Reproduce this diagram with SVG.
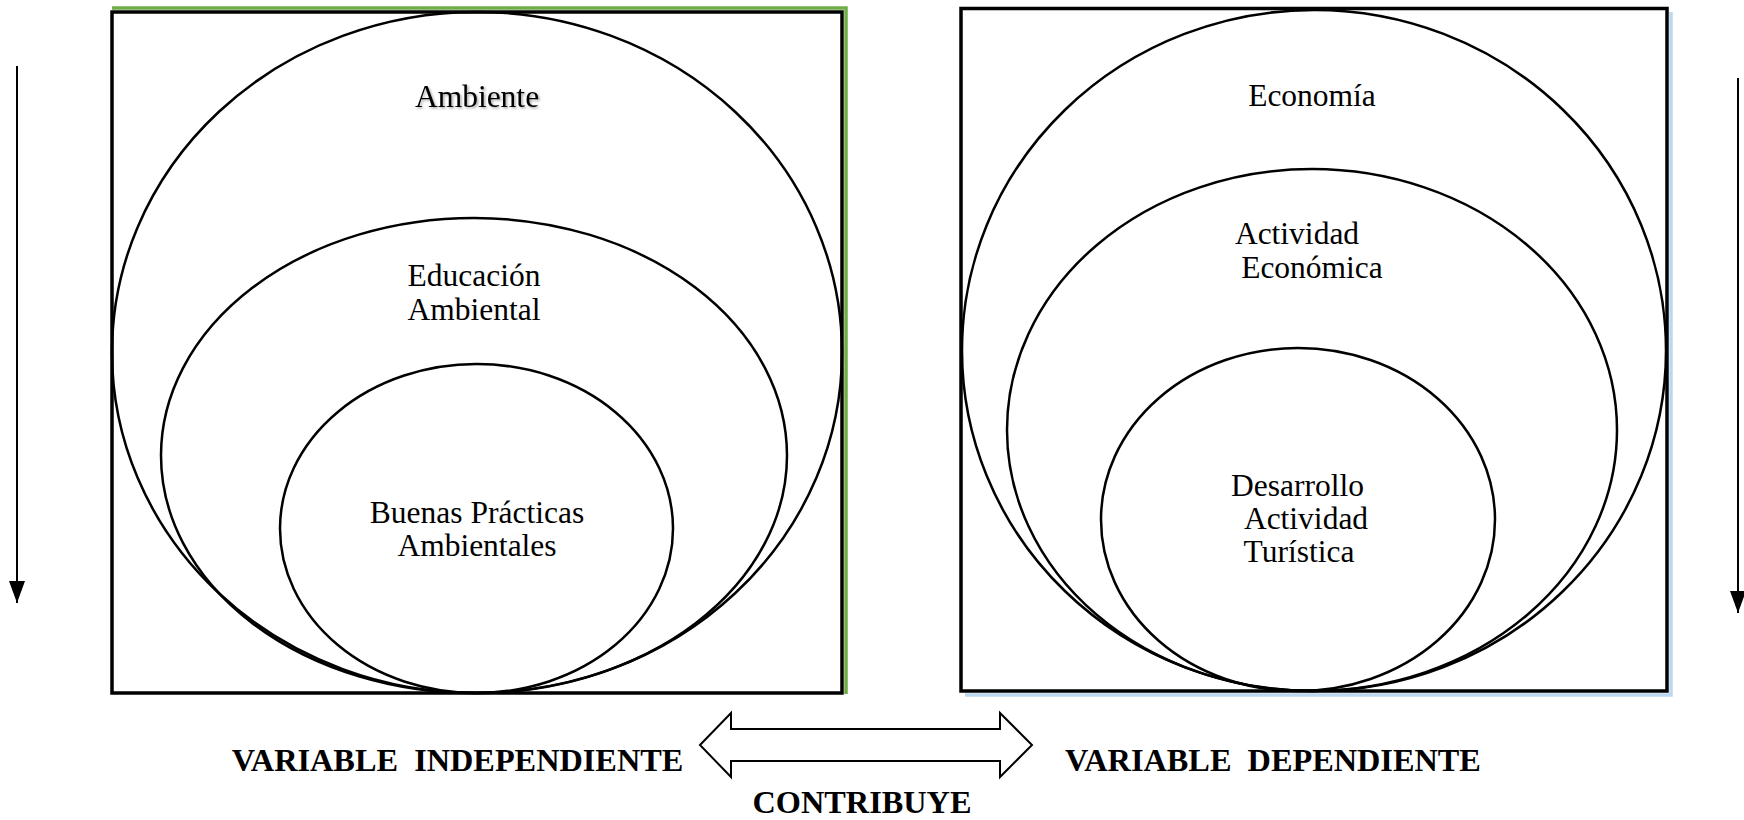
<svg xmlns="http://www.w3.org/2000/svg" width="1744" height="820" viewBox="0 0 1744 820">
<style>
.frame{fill:none;stroke:#000;stroke-width:3.5}
.ell{fill:none;stroke:#000;stroke-width:2.5}
.t{font-family:"Liberation Serif","Times New Roman",serif;font-size:31.5px;fill:#000;text-anchor:middle}
.b{font-family:"Liberation Serif","Times New Roman",serif;font-size:32.3px;font-weight:bold;fill:#000;text-anchor:middle}
.ar{fill:none;stroke:#000;stroke-width:2}
</style>
<defs>
<marker id="tip" viewBox="0 0 22 16" refX="22" refY="8" markerWidth="22" markerHeight="16" markerUnits="userSpaceOnUse" orient="auto">
<path d="M0,0 L22,8 L0,16 Z" fill="#000"/>
</marker>
<filter id="sh" x="-10%" y="-20%" width="120%" height="150%">
<feDropShadow dx="1.5" dy="1.5" stdDeviation="1" flood-color="#000" flood-opacity="0.35"/>
</filter>
</defs>
<rect width="1744" height="820" fill="#fff"/>

<g id="independiente">
<path d="M112,8 H846 V694" fill="none" stroke="#70ad47" stroke-width="3.5"/>
<rect class="frame" x="112" y="12" width="730" height="681"/>
<g id="ambiente">
<ellipse class="ell" cx="477" cy="352.5" rx="365" ry="340.5"/>
<text class="t" x="477" y="107" filter="url(#sh)">Ambiente</text>
</g>
<g id="educacion">
<ellipse class="ell" cx="474" cy="455.5" rx="313" ry="237.5"/>
<text class="t" x="474" y="286">Educación</text>
<text class="t" x="474" y="320">Ambiental</text>
</g>
<g id="buenas">
<ellipse class="ell" cx="476.5" cy="528.5" rx="196.5" ry="164.5"/>
<text class="t" x="477" y="523">Buenas Prácticas</text>
<text class="t" x="477" y="556">Ambientales</text>
</g>
</g>

<g id="dependiente">
<path d="M1671,12 V695 H965" fill="none" stroke="#bdd7ee" stroke-width="3.5"/>
<rect class="frame" x="961" y="8.5" width="706" height="682.5"/>
<g id="economia">
<ellipse class="ell" cx="1314" cy="350.5" rx="352" ry="340.5"/>
<text class="t" x="1312" y="106">Economía</text>
</g>
<g id="actividad">
<ellipse class="ell" cx="1312" cy="430" rx="305" ry="261"/>
<text class="t" x="1297" y="244">Actividad</text>
<text class="t" x="1312" y="278">Económica</text>
</g>
<g id="desarrollo">
<ellipse class="ell" cx="1298" cy="519.5" rx="197" ry="171.5"/>
<text class="t" x="1297.5" y="496">Desarrollo</text>
<text class="t" x="1306" y="529">Actividad</text>
<text class="t" x="1299" y="562">Turística</text>
</g>
</g>

<g id="connectors">
<line class="ar" x1="17" y1="66" x2="17" y2="603" marker-end="url(#tip)"/>
<line class="ar" x1="1738" y1="78" x2="1738" y2="613" marker-end="url(#tip)"/>
<polygon id="contribuye-arrow" points="700,745 731,713 731,729 1000,729 1000,713 1032,745 1000,777 1000,761 731,761 731,777" fill="#fff" stroke="#000" stroke-width="2"/>
</g>

<g id="labels">
<text class="b" x="457.5" y="771" xml:space="preserve">VARIABLE  INDEPENDIENTE</text>
<text class="b" x="1273" y="771" xml:space="preserve">VARIABLE  DEPENDIENTE</text>
<text class="b" x="862" y="813">CONTRIBUYE</text>
</g>
</svg>
